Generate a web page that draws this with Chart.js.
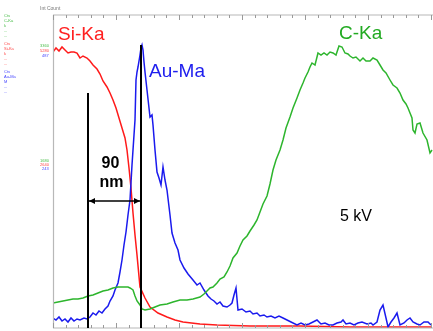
<!DOCTYPE html>
<html>
<head>
<meta charset="utf-8">
<script src="https://cdn.jsdelivr.net/npm/chart.js@4.4.1/dist/chart.umd.min.js"></script>
<style>
  html, body { margin: 0; padding: 0; background: #fff; }
  #wrap { width: 433px; height: 331px; position: relative; }
</style>
</head>
<body>
<div id="wrap"><canvas id="chart" width="433" height="331"></canvas></div>
<script>
// line scan position (arbitrary units along the scan) and counts
const siPos = [0,3,6,9,12,15,18,21,24,27,30,34,37,40,44,47,50,54,57,60,63,66,69,72,74,76,78,80,82,84,87,92,97,105,114,122,130,147,164,197,247,297,347,379];
const siCounts = [276,280,277,281,278,275,276,276,275,270,272,270,267,263,259,254,247,241,235,228,220,210,200,190,178,160,140,115,93,73,41,30,21,15,11,8,6,4,3,2,2,1,1,1];

const auPos = [0,3,6,9,12,15,18,21,24,27,31,34,37,40,43,46,49,52,55,57,60,62,65,67,69,71,73,75,77,79,80,82,83,84,85,87,88,89,90,91,92,94,96,97,99,100,102,104,106,108,110,112,114,117,119,122,125,127,131,135,140,144,147,151,155,158,161,164,167,170,174,177,179,181,183,185,189,193,197,200,204,207,211,214,218,222,226,230,234,238,244,248,252,256,260,264,268,272,276,280,284,288,290,293,297,301,305,309,314,318,320,324,327,330,333,335,338,341,344,347,351,354,357,360,364,367,371,375,378];
const auCounts = [10,8,11,7,9,6,10,7,9,8,10,9,11,15,13,17,15,19,22,27,32,38,45,56,68,83,96,113,128,163,178,208,248,256,261,273,280,283,278,266,256,238,220,211,213,203,178,156,150,143,161,148,138,113,95,85,78,68,60,54,48,43,45,38,32,29,27,24,26,22,21,23,25,33,40,18,19,16,17,14,15,12,13,11,12,10,12,10,8,6,3,5,3,4,6,8,4,5,3,3,5,6,8,4,5,3,5,6,4,5,3,6,18,23,10,1,6,10,15,3,5,8,10,6,4,3,6,6,3];

const cPos = [0,5,10,15,20,25,30,35,40,45,50,55,60,65,70,73,75,77,80,82,84,87,89,92,97,102,107,114,120,127,134,140,147,151,154,157,160,164,167,171,174,177,180,184,187,190,194,197,201,204,207,210,214,217,220,223,227,230,233,237,240,244,247,250,252,255,257,259,262,265,268,271,274,277,280,283,284,286,289,292,295,297,300,303,307,310,313,317,320,324,327,330,333,337,340,344,347,350,353,355,357,359,360,362,364,367,370,374,377,379];
const cCounts = [25,26,27,28,29,29,30,32,33,35,37,38,40,41,41,41,41,40,38,32,27,23,19,18,19,21,23,24,26,28,28,29,31,34,37,40,41,45,49,51,56,62,70,75,82,88,92,97,103,108,116,124,132,144,158,168,178,188,200,211,220,230,238,245,250,256,261,265,263,275,273,275,273,276,275,273,276,282,281,275,274,272,270,271,267,270,267,267,270,268,263,258,255,248,243,240,235,228,224,220,215,210,198,195,204,205,195,188,175,178];

const seriesLabels = ["Si-Ka", "Au-Ma", "C-Ka"];
const markerA = 35;      // left boundary of the Au layer
const markerB = 88;      // right boundary (Au peak)
const widthLabel = ["90", "nm"];
const voltageLabel = "5 kV";

const toPts = (xs, ys) => xs.map((x, i) => ({ x: x, y: ys[i] }));

const overlay = {
  id: "overlay",
  afterDatasetsDraw(chart) {
    const { ctx, chartArea: a, scales: { x, y } } = chart;
    ctx.save();

    // frame lines and tick marks
    ctx.strokeStyle = "#b8b8b8";
    ctx.lineWidth = 1.2;
    ctx.beginPath();
    ctx.moveTo(a.left, a.top); ctx.lineTo(a.right, a.top);
    ctx.moveTo(a.left + 0.5, a.top); ctx.lineTo(a.left + 0.5, a.bottom);
    ctx.moveTo(a.left, a.bottom); ctx.lineTo(a.right, a.bottom);
    ctx.stroke();
    ctx.strokeStyle = "#999";
    ctx.lineWidth = 1;
    for (let i = 0; i <= 30; i++) {
      const px = Math.round(x.getPixelForValue(i * 12.6)) + 0.5;
      const len = i % 5 === 0 ? 5 : 3;
      ctx.beginPath();
      ctx.moveTo(px, a.top); ctx.lineTo(px, a.top + len);
      ctx.moveTo(px, a.bottom); ctx.lineTo(px, a.bottom - len);
      ctx.stroke();
    }
    ctx.fillStyle = "#777";
    ctx.font = "5px 'Liberation Sans'";
    ctx.fillText("Int Count", a.left - 13, a.top - 5);

    // width markers
    const xa = x.getPixelForValue(markerA);
    const xb = x.getPixelForValue(markerB);
    ctx.strokeStyle = "#000";
    ctx.lineWidth = 2;
    ctx.beginPath();
    ctx.moveTo(xa, y.getPixelForValue(235)); ctx.lineTo(xa, a.bottom);
    ctx.moveTo(xb, y.getPixelForValue(283)); ctx.lineTo(xb, a.bottom);
    ctx.stroke();
    const ay = y.getPixelForValue(127);
    ctx.lineWidth = 1.3;
    ctx.beginPath();
    ctx.moveTo(xa, ay); ctx.lineTo(xb, ay);
    ctx.stroke();
    ctx.fillStyle = "#000";
    ctx.beginPath();
    ctx.moveTo(xa + 1, ay); ctx.lineTo(xa + 7, ay - 3); ctx.lineTo(xa + 7, ay + 3); ctx.closePath();
    ctx.moveTo(xb - 1, ay); ctx.lineTo(xb - 7, ay - 3); ctx.lineTo(xb - 7, ay + 3); ctx.closePath();
    ctx.fill();

    ctx.font = "bold 16px 'Liberation Sans'";
    ctx.textAlign = "center";
    ctx.textBaseline = "middle";
    const xm = (xa + xb) / 2;
    ctx.fillText(widthLabel[0], xm - 4, y.getPixelForValue(164));
    ctx.fillText(widthLabel[1], xm - 3, y.getPixelForValue(145));

    // series labels and voltage
    ctx.textAlign = "left";
    ctx.font = "16px 'Liberation Sans'";
    ctx.fillText(voltageLabel, x.getPixelForValue(287), y.getPixelForValue(111));
    ctx.font = "19px 'Liberation Sans'";
    ctx.fillStyle = "#ff2020";
    ctx.fillText(seriesLabels[0], x.getPixelForValue(5), y.getPixelForValue(293));
    ctx.fillStyle = "#2020ee";
    ctx.fillText(seriesLabels[1], x.getPixelForValue(96), y.getPixelForValue(256));
    ctx.fillStyle = "#22aa22";
    ctx.fillText(seriesLabels[2], x.getPixelForValue(286), y.getPixelForValue(294));

    // tiny side legend
    ctx.font = "4px 'Liberation Sans'";
    const side = [
      ["#44bb44", ["Cts", "C-Ka", "k", "...", "..."], 16],
      ["#ff4444", ["Cts", "Si-Ka", "k", "...", "..."], 44],
      ["#4444ff", ["Cts", "Au-Ma", "M", "...", "..."], 72]
    ];
    side.forEach(([col, lines, top]) => {
      ctx.fillStyle = col;
      lines.forEach((t, i) => ctx.fillText(t, 4, top + i * 5));
    });
    ctx.fillStyle = "#44bb44"; ctx.fillText("3360", 40, 46); ctx.fillText("1680", 40, 161);
    ctx.fillStyle = "#ff4444"; ctx.fillText("5280", 40, 51); ctx.fillText("2640", 40, 165);
    ctx.fillStyle = "#4444ff"; ctx.fillText("487", 42, 56); ctx.fillText("243", 42, 169);
    ctx.restore();
  }
};

new Chart(document.getElementById("chart"), {
  type: "line",
  data: {
    datasets: [
      { label: seriesLabels[2], data: toPts(cPos, cCounts), borderColor: "#2db52d", borderWidth: 1.5 },
      { label: seriesLabels[1], data: toPts(auPos, auCounts), borderColor: "#1a1aee", borderWidth: 1.5 },
      { label: seriesLabels[0], data: toPts(siPos, siCounts), borderColor: "#ff1a1a", borderWidth: 1.5 }
    ]
  },
  options: {
    responsive: false,
    animation: false,
    layout: { padding: { left: 53, top: 15, right: 0, bottom: 3 } },
    elements: { point: { radius: 0 }, line: { tension: 0 } },
    plugins: { legend: { display: false }, tooltip: { enabled: false } },
    scales: {
      x: { type: "linear", min: 0, max: 380, display: false },
      y: { min: 0, max: 313, display: false }
    }
  },
  plugins: [overlay]
});
</script>
</body>
</html>
